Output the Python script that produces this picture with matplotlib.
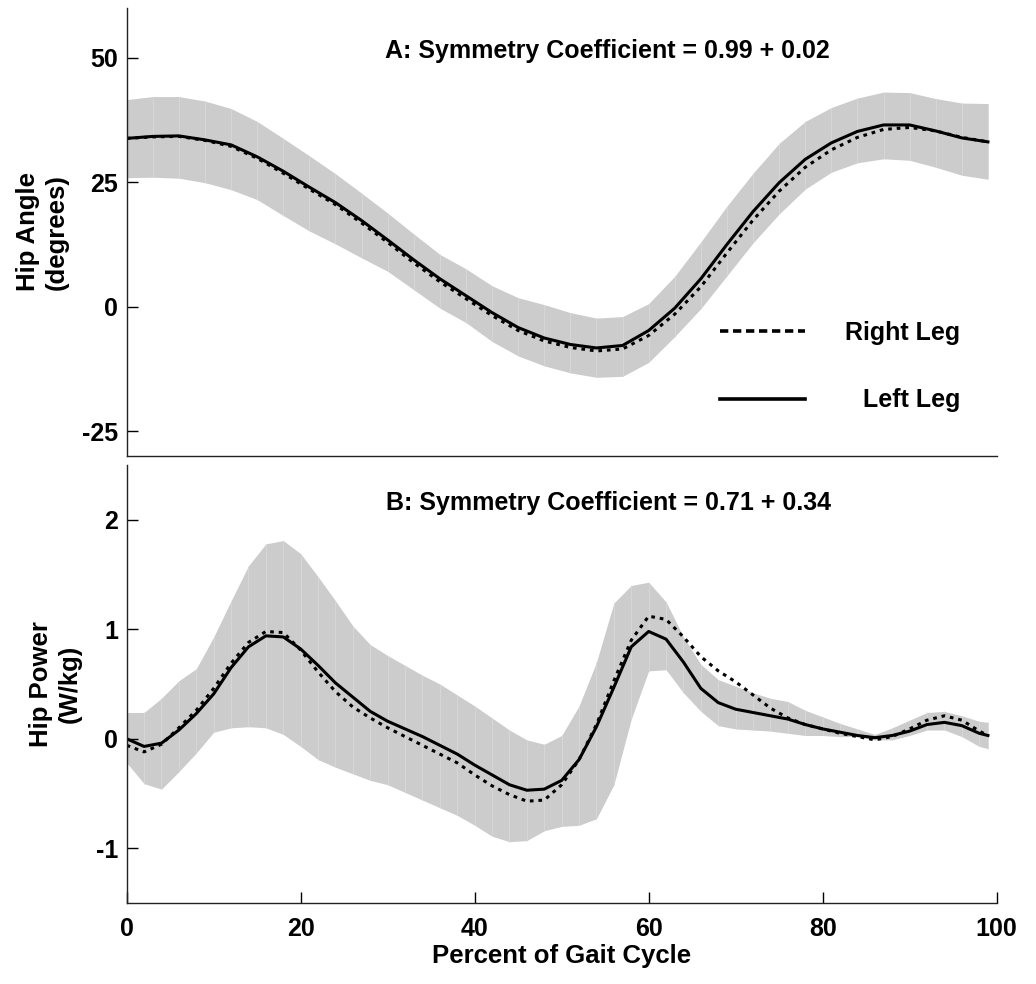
import matplotlib
import matplotlib.pyplot as plt
from matplotlib.lines import Line2D

matplotlib.use('agg')

plt.rcParams['font.family'] = ['Liberation Sans', 'DejaVu Sans']
plt.rcParams['font.weight'] = 'bold'
plt.rcParams['axes.labelweight'] = 'bold'
plt.rcParams['axes.unicode_minus'] = False

# --- panel A: hip angle (degrees) ---
pct_a = [0, 3, 6, 9, 12, 15, 18, 21, 24, 27, 30, 33, 36, 39, 42, 45, 48, 51, 54,
         57, 60, 63, 66, 69, 72, 75, 78, 81, 84, 87, 90, 93, 96, 99]
angle_left = [33.8, 34.2, 34.3, 33.5, 32.5, 30.1, 27.2, 24.0, 20.9, 17.3, 13.4, 9.4,
              5.6, 2.2, -1.2, -4.2, -6.3, -7.6, -8.3, -7.8, -4.8, -0.3, 5.6, 12.5,
              19.1, 24.9, 29.6, 32.9, 35.2, 36.5, 36.5, 35.3, 33.9, 33.1]
angle_right = [33.8, 34.1, 34.2, 33.4, 32.2, 29.8, 26.8, 23.6, 20.5, 16.8, 12.9, 8.8,
               5.0, 1.6, -1.8, -4.8, -6.9, -8.2, -8.9, -8.5, -5.8, -1.5, 4.0, 10.8,
               17.4, 23.2, 28.0, 31.5, 34.0, 35.6, 36.0, 35.3, 34.0, 33.1]
angle_upper = [41.6, 42.2, 42.2, 41.3, 39.8, 37.2, 33.8, 30.3, 26.7, 22.8, 18.8, 14.6,
               10.5, 7.6, 4.2, 1.8, 0.4, -1.2, -2.3, -2.0, 0.6, 6.1, 13.0, 20.2,
               26.8, 32.8, 37.2, 40.0, 41.9, 43.1, 43.0, 41.8, 40.9, 40.8]
angle_lower = [25.9, 26.0, 25.8, 24.9, 23.5, 21.5, 18.3, 15.2, 12.6, 9.8, 7.1, 3.4,
               -0.3, -3.2, -7.0, -9.9, -11.9, -13.3, -14.2, -14.0, -11.2, -6.0, -0.4,
               6.2, 12.8, 18.6, 23.6, 27.0, 28.9, 29.7, 29.4, 28.0, 26.4, 25.6]

# --- panel B: hip power (W/kg) ---
pct_b = [0, 2, 4, 6, 8, 10, 12, 14, 16, 18, 20, 22, 24, 26, 28, 30, 32, 34, 36, 38,
         40, 42, 44, 46, 48, 50, 52, 54, 56, 58, 60, 62, 64, 66, 68, 70, 72, 74, 76,
         78, 80, 82, 84, 86, 88, 90, 92, 94, 96, 98, 99]
power_left = [0.00, -0.07, -0.04, 0.08, 0.23, 0.41, 0.65, 0.84, 0.94, 0.93, 0.82,
              0.67, 0.51, 0.38, 0.25, 0.16, 0.09, 0.02, -0.06, -0.14, -0.24, -0.33,
              -0.42, -0.47, -0.46, -0.38, -0.19, 0.11, 0.47, 0.84, 0.98, 0.91, 0.70,
              0.46, 0.33, 0.27, 0.24, 0.21, 0.18, 0.13, 0.09, 0.06, 0.03, 0.01, 0.03,
              0.07, 0.13, 0.15, 0.12, 0.05, 0.03]
power_right = [-0.06, -0.12, -0.05, 0.10, 0.26, 0.46, 0.69, 0.88, 0.98, 0.97, 0.81,
               0.61, 0.43, 0.29, 0.19, 0.10, 0.02, -0.06, -0.14, -0.22, -0.33, -0.43,
               -0.51, -0.57, -0.56, -0.42, -0.19, 0.13, 0.53, 0.90, 1.12, 1.09, 0.93,
               0.75, 0.62, 0.52, 0.40, 0.28, 0.19, 0.13, 0.09, 0.05, 0.02, -0.01, 0.02,
               0.09, 0.17, 0.21, 0.17, 0.07, 0.03]
power_upper = [0.24, 0.24, 0.37, 0.53, 0.64, 0.93, 1.26, 1.58, 1.78, 1.81, 1.69, 1.48,
               1.26, 1.03, 0.86, 0.76, 0.67, 0.58, 0.50, 0.40, 0.30, 0.19, 0.08, -0.01,
               -0.05, 0.03, 0.30, 0.70, 1.24, 1.40, 1.43, 1.25, 0.93, 0.68, 0.54, 0.48,
               0.42, 0.37, 0.34, 0.26, 0.20, 0.14, 0.09, 0.04, 0.10, 0.17, 0.24, 0.25,
               0.21, 0.16, 0.15]
power_lower = [-0.22, -0.41, -0.46, -0.30, -0.13, 0.06, 0.10, 0.11, 0.10, 0.04, -0.07,
               -0.19, -0.26, -0.32, -0.38, -0.42, -0.49, -0.56, -0.63, -0.70, -0.79,
               -0.89, -0.94, -0.93, -0.84, -0.80, -0.79, -0.73, -0.42, 0.18, 0.62, 0.63,
               0.42, 0.25, 0.12, 0.09, 0.08, 0.07, 0.05, 0.03, 0.03, 0.02, 0.02, -0.01,
               -0.01, 0.03, 0.08, 0.08, 0.02, -0.07, -0.09]

title_a = 'A: Symmetry Coefficient = 0.99 + 0.02'
title_b = 'B: Symmetry Coefficient = 0.71 + 0.34'

band_color = '#cccccc'
dotted = (0, (1.2, 1.6))

fig = plt.figure(figsize=(10.36, 9.84), dpi=100)
ax1 = fig.add_axes([0.1223, 0.5366, 0.8397, 0.4553])
ax2 = fig.add_axes([0.1223, 0.0823, 0.8397, 0.4451])


def style_axes(ax):
    for side in ['top', 'right']:
        ax.spines[side].set_visible(False)
    for side in ['left', 'bottom']:
        ax.spines[side].set_linewidth(1.0)
        ax.spines[side].set_color('#222222')
    ax.tick_params(direction='in', length=8, width=1, labelsize=18, pad=6)
    ax.set_xlim(0, 100)


def draw_band(ax, x, lo, hi):
    ax.fill_between(x, lo, hi, color=band_color, linewidth=0)
    ax.vlines(x, lo, hi, color='#d9d9d9', linewidth=0.6)


# top panel
style_axes(ax1)
draw_band(ax1, pct_a, angle_lower, angle_upper)
ax1.plot(pct_a, angle_right, color='black', lw=2.2, linestyle=dotted)
ax1.plot(pct_a, angle_left, color='black', lw=2.2)
ax1.set_ylim(-30, 60)
ax1.set_yticks([-25, 0, 25, 50])
ax1.set_xticks([])
ax1.set_ylabel('Hip Angle\n(degrees)', fontsize=18.5, labelpad=10, linespacing=1.25)
ax1.text(55.2, 51.4, title_a, ha='center', va='center', fontsize=18, fontweight='bold')

handles = [Line2D([], [], color='black', lw=2.6, linestyle=(0, (2.3, 1.3))),
           Line2D([], [], color='black', lw=2.6)]
leg = ax1.legend(handles, ['Right Leg', 'Left Leg'], frameon=False, fontsize=18,
                 loc='center', bbox_to_anchor=(0.82, 0.2), handlelength=3.4,
                 handletextpad=1.6, labelspacing=1.75, borderpad=0)

# right-align the legend labels like the original
fig.canvas.draw()
renderer = fig.canvas.get_renderer()
leg_texts = leg.get_texts()
widths = [t.get_window_extent(renderer).width for t in leg_texts]
for t, w in zip(leg_texts, widths):
    t.set_position((max(widths) - w, 0))

# bottom panel
style_axes(ax2)
draw_band(ax2, pct_b, power_lower, power_upper)
ax2.plot(pct_b, power_right, color='black', lw=2.2, linestyle=dotted)
ax2.plot(pct_b, power_left, color='black', lw=2.2)
ax2.set_ylim(-1.5, 2.5)
ax2.set_yticks([-1, 0, 1, 2])
ax2.set_xticks([0, 20, 40, 60, 80, 100])
ax2.tick_params(axis='x', pad=10)
ax2.set_ylabel('Hip Power\n(W/kg)', fontsize=18.5, labelpad=10, linespacing=1.25)
ax2.set_xlabel('Percent of Gait Cycle', fontsize=18.5, labelpad=2)
ax2.text(55.4, 2.15, title_b, ha='center', va='center', fontsize=18, fontweight='bold')

fig.savefig('out.png', dpi=100)
